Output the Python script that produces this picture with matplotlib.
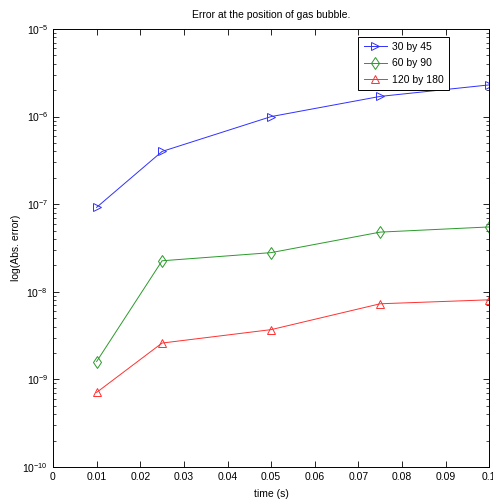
import matplotlib
matplotlib.use("Agg")
import matplotlib.pyplot as plt

# donnees
t = [0.01, 0.025, 0.05, 0.075, 0.1]
err_30x45 = [9.2e-8, 4.0e-7, 1.0e-6, 1.7e-6, 2.3e-6]
err_60x90 = [1.6e-9, 2.26e-8, 2.8e-8, 4.8e-8, 5.5e-8]
err_120x180 = [7.1e-10, 2.6e-9, 3.7e-9, 7.3e-9, 8.1e-9]
labels = ["30 by 45", "60 by 90", "120 by 180"]

plt.rcParams['font.family'] = ['Liberation Sans Narrow', 'Liberation Sans', 'DejaVu Sans']
plt.rcParams['font.size'] = 7.5

fig = plt.figure(figsize=(4.93, 5.04), dpi=100)
ax = fig.add_axes([0.1075, 0.0734, 0.885, 0.8691])

ax.plot(t, err_30x45, color="#3030ff", marker=">", mfc="none", ms=6, lw=0.7, mew=0.7, label=labels[0])
ax.plot(t, err_60x90, color="#2a9a2a", marker="d", mfc="none", ms=6, lw=0.7, mew=0.7, label=labels[1])
ax.plot(t, err_120x180, color="#ff3030", marker="^", mfc="none", ms=6, lw=0.7, mew=0.7, label=labels[2])

ax.set_yscale("log")
ax.set_ylim(1e-10, 1e-5)
ax.set_xlim(0, 0.1)
ax.set_xticks([0, 0.01, 0.02, 0.03, 0.04, 0.05, 0.06, 0.07, 0.08, 0.09, 0.1])
ax.set_xticklabels(["0", "0.01", "0.02", "0.03", "0.04", "0.05", "0.06", "0.07", "0.08", "0.09", "0.1"])
ax.tick_params(which="both", direction="in", top=True, right=True, labelsize=7.5)
ax.tick_params(which="major", length=4, width=0.6)
ax.tick_params(which="minor", length=2, width=0.5)
for s in ax.spines.values():
    s.set_linewidth(0.7)

ax.set_xlabel("time (s)", labelpad=5)
ax.set_ylabel("log(Abs. error)", labelpad=1)
ax.set_title("Error at the position of gas bubble.", fontsize=7.5, pad=8)

leg = ax.legend(loc="upper right", bbox_to_anchor=(0.919, 0.994), fancybox=False,
                edgecolor="black", framealpha=1, fontsize=7.5, handlelength=2.2,
                borderpad=0.5, labelspacing=0.6, handletextpad=0.5)
leg.get_frame().set_linewidth(0.7)

fig.savefig("out.png", dpi=100)
